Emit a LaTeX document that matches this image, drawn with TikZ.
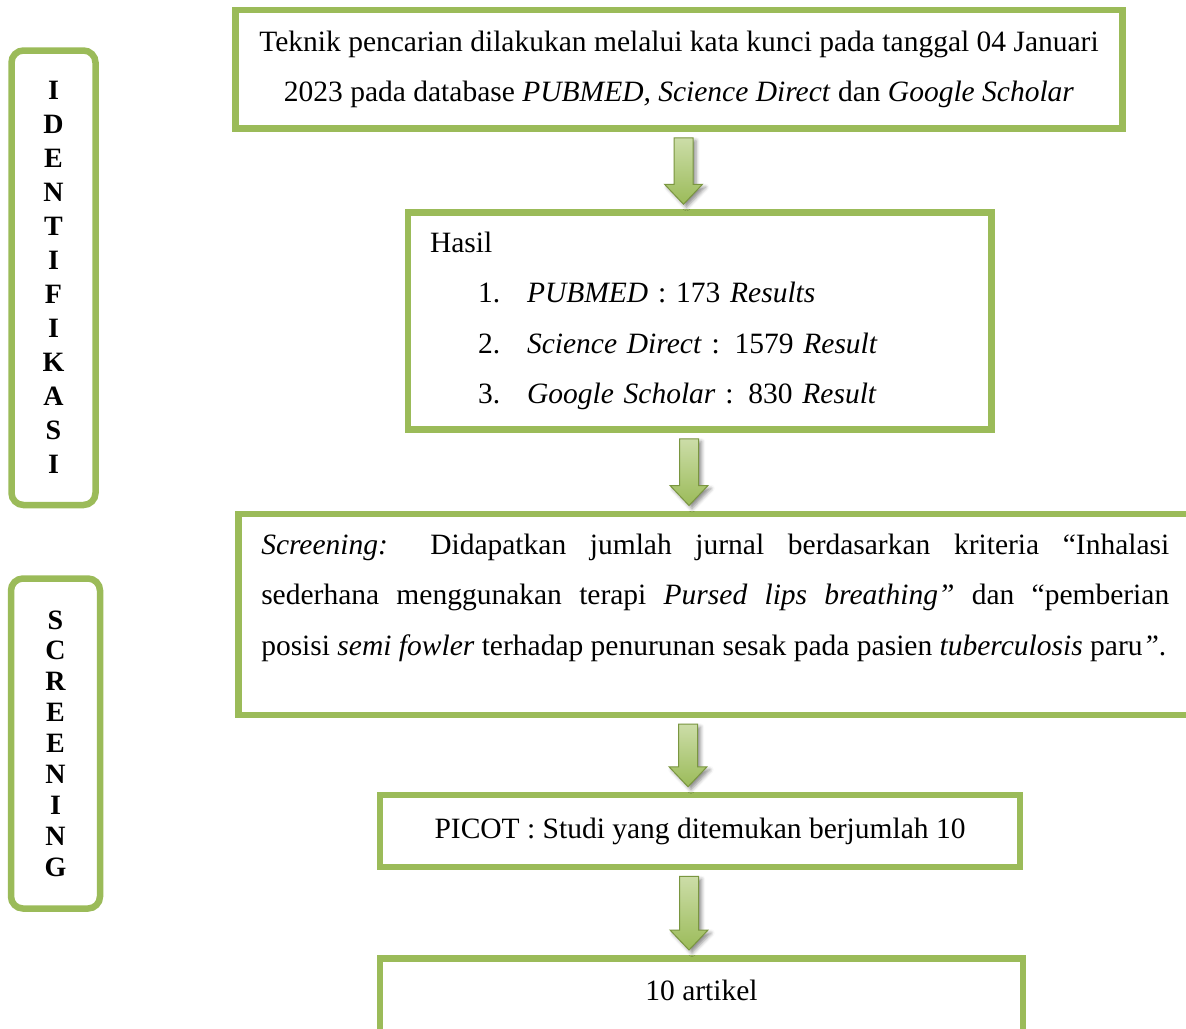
\documentclass[tikz,border=0pt]{standalone}
\usepackage{fontspec}
\setmainfont{Liberation Serif}
\usepackage{tikz}
\usetikzlibrary{calc,shadows.blur}
\definecolor{flowgreen}{RGB}{155,187,89}
\definecolor{arrowlight}{RGB}{204,221,168}
\definecolor{arrowedge}{RGB}{122,150,64}
\tikzset{
  flowbox/.style={
    rectangle,
    draw=flowgreen,
    line width=3.25pt,
    inner sep=0pt,
    font=\fontsize{14.75}{25.25}\selectfont
  },
  sidebox/.style={
    rectangle,
    rounded corners=6pt,
    draw=flowgreen,
    line width=3.25pt,
    align=center,
    font=\fontsize{14}{17}\selectfont\bfseries
  },
  flowarrow/.style={
    draw=arrowedge,
    line width=0.5pt,
    line join=miter,
    top color=arrowlight,
    bottom color=flowgreen,
    blur shadow={shadow xshift=1.5pt,shadow yshift=-1.5pt,shadow blur steps=4,shadow opacity=45}
  }
}
% block arrow from #1 down to #2, shaft centred on x = #3
\newcommand{\flowdown}[3]{%
  \path[flowarrow] let \p1=#1, \p2=#2, \p3=(#3,0) in
    (\x3-4.75pt,\y1-3pt) -- (\x3+4.75pt,\y1-3pt) -- (\x3+4.75pt,\y2+12.5pt)
    -- (\x3+9.5pt,\y2+12.5pt) -- (\x3,\y2+2.5pt) -- (\x3-9.5pt,\y2+12.5pt)
    -- (\x3-4.75pt,\y2+12.5pt) -- cycle;
}

\begin{document}
\begin{tikzpicture}[x=0.5pt,y=-0.5pt]
\clip (0,0) rectangle (1186,1028);

% side labels
\node[sidebox, minimum width=42pt, minimum height=227.25pt] (ident) at (53.5,277.75)
  {I\\D\\E\\N\\T\\I\\F\\I\\K\\A\\S\\I};
\node[sidebox, minimum width=44.5pt, minimum height=165pt, font=\fontsize{14}{15.45}\selectfont\bfseries] (screenside) at (55.5,743.5)
  {S\\C\\R\\E\\E\\N\\I\\N\\G};

% flow boxes
\node[flowbox, align=center, minimum width=443.5pt, minimum height=59.25pt] (search) at (679,69.25)
  {Teknik pencarian dilakukan melalui kata kunci pada tanggal 04 Januari\\
   2023 pada database \textit{PUBMED, Science Direct} dan \textit{Google Scholar}};
\node[flowbox, align=left, text width=269.75pt, inner xsep=11pt, minimum height=108.5pt] (hasil) at (699.75,321)
  {Hasil\\
   \hspace*{24pt}\makebox[24.5pt][l]{1.}\textit{PUBMED} : 173 \textit{Results}\\
   \hspace*{24pt}\makebox[24.5pt][l]{2.}\textit{Science Direct} : 1579 \textit{Result}\\
   \hspace*{24pt}\makebox[24.5pt][l]{3.}\textit{Google Scholar} : 830 \textit{Result}};
\node[flowbox, anchor=north west, align=justify, text width=454pt, inner xsep=11.5pt, inner ysep=10.25pt, text height=10pt, text depth=70pt] (screen) at (235,510.5)
  {\textit{Screening:} Didapatkan jumlah jurnal berdasarkan kriteria “Inhalasi\linebreak
   sederhana menggunakan terapi \textit{Pursed lips breathing”} dan “pemberian\linebreak
   posisi \textit{semi fowler} terhadap penurunan sesak pada pasien \textit{tuberculosis} paru\textit{”}.};
\node[flowbox, minimum width=320pt, minimum height=36pt] (picot) at (700,831)
  {PICOT : Studi yang ditemukan berjumlah 10};
\node[flowbox, anchor=north, minimum width=321.5pt, inner ysep=11pt, text height=10pt, text depth=40pt] (artikel) at (701.5,955)
  {10 artikel};

% arrows
\flowdown{(search.south)}{(hasil.north)}{683.5}
\flowdown{(hasil.south)}{(screen.north)}{689}
\flowdown{(screen.south)}{(picot.north)}{688}
\flowdown{(picot.south)}{(artikel.north)}{689}
\end{tikzpicture}
\end{document}
